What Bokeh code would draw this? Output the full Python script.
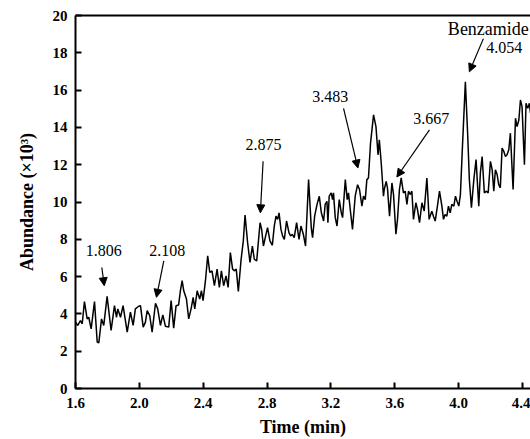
from bokeh.plotting import figure
from bokeh.models import (Range1d, FixedTicker, LinearAxis, Label, Arrow, NormalHead,
                          PrintfTickFormatter, ColumnDataSource)
from bokeh.embed import file_html
from bokeh.resources import INLINE

# ---- data ----
time_min = [1.600, 1.614, 1.631, 1.642, 1.656, 1.673, 1.683, 1.698, 1.719, 1.736, 1.746, 1.763,
            1.777, 1.798, 1.823, 1.844, 1.857, 1.865, 1.882, 1.898, 1.924, 1.944, 1.961, 1.975,
            1.996, 2.007, 2.024, 2.038, 2.049, 2.065, 2.080, 2.101, 2.115, 2.132, 2.147, 2.163,
            2.184, 2.199, 2.215, 2.230, 2.246, 2.257, 2.268, 2.278, 2.295, 2.309, 2.324, 2.337,
            2.347, 2.362, 2.378, 2.389, 2.399, 2.414, 2.428, 2.441, 2.455, 2.470, 2.487, 2.501,
            2.514, 2.528, 2.543, 2.556, 2.570, 2.584, 2.597, 2.607, 2.620, 2.637, 2.651, 2.662,
            2.678, 2.693, 2.708, 2.720, 2.735, 2.756, 2.766, 2.777, 2.791, 2.803, 2.818, 2.833,
            2.845, 2.856, 2.866, 2.875, 2.887, 2.897, 2.908, 2.922, 2.937, 2.947, 2.958, 2.970,
            2.985, 3.000, 3.012, 3.027, 3.041, 3.060, 3.077, 3.085, 3.098, 3.113, 3.127, 3.140,
            3.154, 3.164, 3.175, 3.181, 3.189, 3.202, 3.210, 3.216, 3.227, 3.238, 3.252, 3.265,
            3.273, 3.290, 3.302, 3.310, 3.321, 3.335, 3.352, 3.367, 3.379, 3.394, 3.404, 3.415,
            3.425, 3.435, 3.448, 3.467, 3.482, 3.495, 3.503, 3.515, 3.529, 3.534, 3.546, 3.554,
            3.567, 3.582, 3.592, 3.607, 3.617, 3.629, 3.640, 3.654, 3.665, 3.676, 3.686, 3.696,
            3.707, 3.717, 3.732, 3.742, 3.755, 3.770, 3.784, 3.801, 3.815, 3.832, 3.842, 3.853,
            3.867, 3.880, 3.895, 3.905, 3.915, 3.926, 3.936, 3.947, 3.957, 3.970, 3.980, 3.990,
            4.001, 4.011, 4.022, 4.042, 4.057, 4.067, 4.080, 4.095, 4.109, 4.126, 4.136, 4.147,
            4.161, 4.174, 4.185, 4.199, 4.210, 4.220, 4.230, 4.241, 4.251, 4.261, 4.272, 4.283,
            4.293, 4.303, 4.314, 4.324, 4.341, 4.356, 4.366, 4.377, 4.387, 4.397, 4.412, 4.422,
            4.433, 4.443, 4.450]
abundance = [3.56, 3.38, 3.64, 3.47, 4.66, 3.73, 3.82, 3.20, 4.66, 2.49, 2.45, 3.73,
             3.38, 4.94, 3.11, 4.44, 3.82, 4.27, 3.82, 4.44, 3.02, 4.09, 3.38, 4.27,
             4.41, 4.44, 3.29, 3.56, 4.18, 3.91, 3.02, 4.57, 4.27, 3.38, 3.95, 3.34,
             3.29, 4.71, 3.24, 4.44, 4.48, 5.24, 5.78, 5.24, 4.80, 3.73, 4.27, 4.89,
             4.27, 5.24, 4.80, 5.24, 4.71, 5.78, 7.11, 6.22, 6.31, 5.51, 6.40, 5.42,
             6.31, 5.51, 6.04, 5.42, 7.29, 6.40, 6.31, 6.40, 5.20, 6.90, 7.90, 9.30,
             7.82, 6.76, 7.64, 6.93, 6.84, 8.89, 8.53, 7.64, 8.18, 8.62, 7.91, 7.68,
             8.71, 9.24, 9.07, 9.42, 8.53, 8.18, 8.00, 8.98, 8.36, 8.18, 8.27, 8.09,
             8.89, 8.00, 8.71, 8.27, 7.64, 11.20, 8.60, 8.09, 9.24, 9.87, 10.31, 9.42,
             8.98, 9.87, 10.04, 8.89, 10.31, 10.49, 10.13, 10.49, 9.16, 8.71, 10.13, 9.42,
             9.16, 11.20, 10.13, 10.49, 9.60, 8.53, 10.31, 10.93, 10.67, 9.78, 10.31, 10.13,
             11.20, 11.29, 13.16, 14.67, 14.04, 12.53, 13.33, 12.09, 10.31, 10.67, 11.11, 10.76,
             9.24, 11.02, 10.40, 8.27, 9.07, 10.67, 11.29, 10.49, 10.58, 9.87, 10.58, 10.40,
             10.58, 9.07, 9.96, 9.60, 8.89, 9.96, 9.51, 11.29, 9.07, 9.51, 9.24, 8.98,
             9.78, 10.58, 9.78, 9.07, 9.33, 9.24, 9.78, 9.42, 9.87, 9.78, 10.31, 10.04,
             9.78, 10.40, 12.62, 16.44, 13.51, 11.20, 9.69, 11.20, 12.27, 9.78, 11.56, 12.44,
             10.49, 10.58, 10.49, 12.18, 11.73, 10.58, 11.73, 11.47, 10.93, 10.76, 12.89, 12.71,
             12.44, 12.53, 12.80, 13.69, 10.67, 14.49, 14.04, 14.40, 15.47, 15.11, 12.00, 15.29,
             15.02, 15.29, 14.76]

x_ticks = [1.6, 2.0, 2.4, 2.8, 3.2, 3.6, 4.0, 4.4]
y_ticks = [0, 2, 4, 6, 8, 10, 12, 14, 16, 18, 20]

peak_labels = ["1.806", "2.108", "2.875", "3.483", "3.667", "4.054"]

FONT = "Liberation Serif"

p = figure(width=530, height=439, output_backend="svg", toolbar_location=None,
           x_range=Range1d(1.6, 4.45), y_range=Range1d(0, 20),
           min_border_left=75, min_border_right=0, min_border_top=15, min_border_bottom=49)
p.outline_line_color = None
p.xgrid.visible = False
p.ygrid.visible = False
p.background_fill_color = "white"
p.border_fill_color = "white"

src = ColumnDataSource(dict(t=time_min, a=abundance))
p.line("t", "a", source=src, line_color="black", line_width=1.5)

for ax in (p.xaxis[0], p.yaxis[0]):
    ax.axis_line_width = 2
    ax.axis_line_color = "black"
    ax.major_tick_in = 6
    ax.major_tick_out = 0
    ax.major_tick_line_width = 2
    ax.minor_tick_in = 0
    ax.minor_tick_out = 0
    ax.major_label_text_font = FONT
    ax.major_label_text_font_style = "bold"
    ax.major_label_text_font_size = "15px"
    ax.major_label_text_color = "black"
    ax.axis_label_text_font = FONT
    ax.axis_label_text_font_style = "bold"
    ax.axis_label_text_font_size = "18px"
    ax.axis_label_text_color = "black"

p.xaxis[0].ticker = FixedTicker(ticks=x_ticks)
p.xaxis[0].formatter = PrintfTickFormatter(format="%.1f")
p.xaxis[0].major_label_standoff = 9
p.xaxis[0].axis_label = "Time (min)"
p.xaxis[0].axis_label_standoff = 6

p.yaxis[0].ticker = FixedTicker(ticks=y_ticks)
p.yaxis[0].major_label_standoff = 8
p.yaxis[0].axis_label = "Abundance (×10³)"
p.yaxis[0].axis_label_standoff = 13

top = LinearAxis(ticker=FixedTicker(ticks=[]), axis_line_width=2, axis_line_color="black",
                 major_tick_in=0, major_tick_out=0, minor_tick_in=0, minor_tick_out=0,
                 major_label_standoff=0, major_label_text_font_size="0px")
p.add_layout(top, "above")

# annotations: (label x, label y), arrow start, arrow end — in data units
label_pos = [(1.777, 7.38), (2.174, 7.38), (2.778, 13.07), (3.196, 15.68), (3.828, 14.49), (4.285, 18.31)]
arrow_start = [(1.765, 6.49), (2.153, 6.84), (2.775, 12.18), (3.279, 15.02), (3.817, 13.87), (4.155, 18.76)]
arrow_end = [(1.780, 5.51), (2.107, 4.89), (2.758, 9.42), (3.369, 11.82), (3.613, 11.34), (4.067, 16.98)]

for txt, (lx, ly), (sx, sy), (ex, ey) in zip(peak_labels, label_pos, arrow_start, arrow_end):
    p.add_layout(Label(x=lx, y=ly, text=txt, text_font=FONT, text_font_size="16px",
                       text_align="center", text_baseline="middle", text_color="black"))
    p.add_layout(Arrow(x_start=sx, y_start=sy, x_end=ex, y_end=ey, line_width=1.2,
                       line_color="black",
                       end=NormalHead(size=8, fill_color="black", line_color="black", line_width=1)))

p.add_layout(Label(x=4.186, y=19.29, text="Benzamide", text_font=FONT, text_font_size="18px",
                   text_align="center", text_baseline="middle", text_color="black"))

open("out.html", "w").write(file_html(p, INLINE))
